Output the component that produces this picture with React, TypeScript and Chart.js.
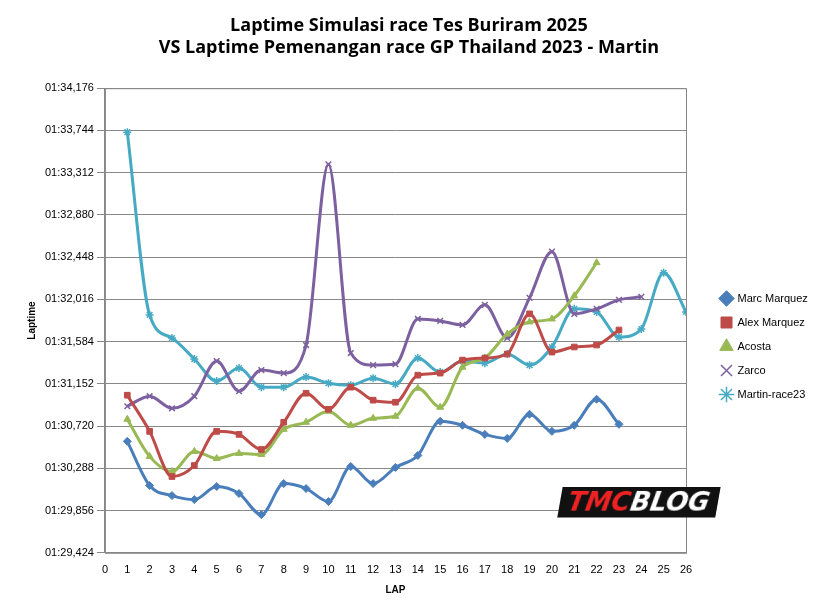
import { useEffect, useRef } from "react";
import Chart from "chart.js/auto";

const laps = Array.from({ length: 26 }, (_, i) => i + 1);
const marc = [90.564, 90.112, 90.009, 89.968, 90.102, 90.03, 89.814, 90.132, 90.081, 89.948, 90.307, 90.132, 90.297, 90.42, 90.769, 90.728, 90.635, 90.594, 90.841, 90.666, 90.728, 90.995, 90.738];
const alex = [91.036, 90.666, 90.204, 90.317, 90.666, 90.635, 90.481, 90.759, 91.056, 90.892, 91.118, 90.985, 90.964, 91.241, 91.262, 91.395, 91.416, 91.457, 91.868, 91.477, 91.529, 91.549, 91.703];
const acosta = [90.79, 90.41, 90.256, 90.461, 90.389, 90.44, 90.43, 90.687, 90.759, 90.872, 90.728, 90.8, 90.82, 91.108, 90.913, 91.323, 91.416, 91.662, 91.785, 91.816, 92.052, 92.391];
const zarco = [90.923, 91.026, 90.902, 91.026, 91.385, 91.077, 91.293, 91.262, 91.549, 93.397, 91.467, 91.344, 91.354, 91.816, 91.796, 91.755, 91.96, 91.621, 92.032, 92.504, 91.868, 91.919, 92.011, 92.042];
const martin = [93.726, 91.857, 91.621, 91.406, 91.18, 91.313, 91.118, 91.118, 91.221, 91.159, 91.139, 91.21, 91.149, 91.416, 91.272, 91.385, 91.364, 91.457, 91.344, 91.529, 91.919, 91.888, 91.631, 91.713, 92.288, 91.888];
const yTicks = [89.424, 89.856, 90.288, 90.72, 91.152, 91.584, 92.016, 92.448, 92.88, 93.312, 93.744, 94.176];

const fmt = (v: number) => {
  const m = Math.floor(v / 60);
  const ms = Math.round((v - m * 60) * 1000);
  const ss = Math.floor(ms / 1000);
  const fr = ms % 1000;
  return `0${m}:${String(ss).padStart(2, "0")},${String(fr).padStart(3, "0")}`;
};

const series = [
  { label: "Marc Marquez", data: marc, color: "#4A7EBB", point: "rectRot" },
  { label: "Alex Marquez", data: alex, color: "#BE4B48", point: "rect" },
  { label: "Acosta", data: acosta, color: "#98B954", point: "triangle" },
  { label: "Zarco", data: zarco, color: "#7D60A0", point: "crossRot" },
  { label: "Martin-race23", data: martin, color: "#46AAC5", point: "star" },
];

const frame = {
  id: "frame",
  afterLayout(c: any) {
    const lg = c.legend;
    if (lg) {
      lg.top += 40;
      lg.bottom += 40;
      lg.left += 22;
      lg.right += 22;
    }
  },
  afterDraw(c: any) {
    const { left, top, right, bottom } = c.chartArea;
    const ctx = c.ctx;
    ctx.save();
    ctx.strokeStyle = "#888";
    ctx.lineWidth = 1;
    ctx.strokeRect(left + 0.5, top + 0.5, right - left, bottom - top);
    ctx.restore();
  },
};

export default function App() {
  const ref = useRef<HTMLCanvasElement>(null);
  useEffect(() => {
    if (!ref.current) return;
    const font = "'Liberation Sans', Arial, sans-serif";
    const chart = new Chart(ref.current, {
      type: "line",
      plugins: [frame],
      data: {
        datasets: series.map((s) => ({
          label: s.label,
          data: s.data.map((y, i) => ({ x: laps[i], y })),
          borderColor: s.color,
          backgroundColor: s.color,
          pointStyle: s.point as any,
          pointRadius: 4,
          pointBorderWidth: s.point === "crossRot" || s.point === "star" ? 1.5 : 1,
          borderWidth: 3,
          cubicInterpolationMode: "monotone" as const,
        })),
      },
      options: {
        animation: false,
        responsive: false,
        layout: { padding: { top: 13, right: 10, left: 22, bottom: 15 } },
        plugins: {
          title: {
            display: true,
            text: ["Laptime Simulasi race Tes Buriram 2025", "VS Laptime Pemenangan race GP Thailand 2023 - Martin"],
            font: { family: "'Open Sans', sans-serif", size: 18, weight: "bold" },
            color: "#000",
            padding: { top: 2, bottom: 30 },
          },
          legend: {
            position: "right",
            labels: {
              usePointStyle: true,
              boxWidth: 30,
              font: { family: font, size: 11 },
              color: "#000",
              padding: 13,
            },
          },
          tooltip: { enabled: false },
        },
        scales: {
          x: {
            type: "linear",
            min: 0,
            max: 26,
            ticks: { stepSize: 1, font: { family: font, size: 11 }, color: "#000" },
            grid: { display: false },
            border: { color: "#888" },
            title: { display: true, text: "LAP", font: { family: font, size: 10, weight: "bold" }, color: "#000" },
          },
          y: {
            min: 89.424,
            max: 94.176,
            afterBuildTicks: (axis: any) => {
              axis.ticks = yTicks.map((v) => ({ value: v }));
            },
            ticks: { callback: (v: any) => fmt(Number(v)), font: { family: font, size: 11 }, color: "#000" },
            grid: { color: "#888" },
            border: { color: "#888" },
            title: { display: true, text: "Laptime", font: { family: font, size: 10, weight: "bold" }, color: "#000" },
          },
        },
      },
    });
    chart.options.layout!.padding = { top: 13, right: 10 + Math.max(0, chart.chartArea.right - 686), left: 22, bottom: 15 };
    chart.update();
    return () => chart.destroy();
  }, []);
  return (
    <div style={{ position: "absolute", left: 0, top: 0, width: 837, height: 615, background: "#fff" }}>
      <canvas ref={ref} width={837} height={615} style={{ width: 837, height: 615 }} />
      <div
        style={{
          position: "absolute",
          left: 560,
          top: 487,
          background: "#111",
          color: "#fff",
          fontFamily: "'DejaVu Sans', sans-serif",
          fontWeight: "bold",
          fontStyle: "italic",
          fontSize: 26,
          padding: "0 8px",
          transform: "skewX(-10deg)",
        }}
      >
        <span style={{ color: "#e22" }}>TMC</span>BLOG
      </div>
    </div>
  );
}
